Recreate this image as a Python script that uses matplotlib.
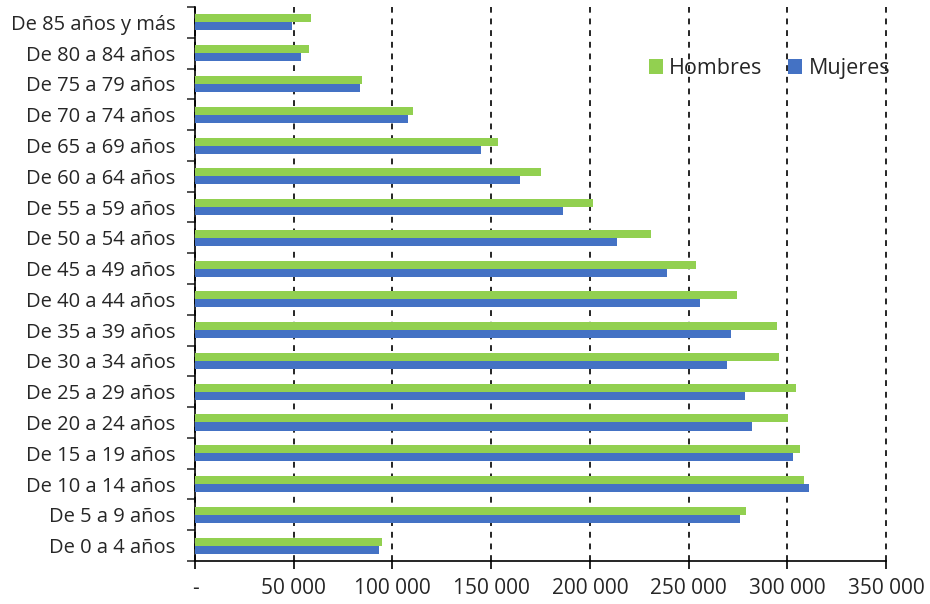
import matplotlib
matplotlib.use("Agg")
import matplotlib.pyplot as plt
import numpy as np
from matplotlib.ticker import FixedLocator, FuncFormatter

plt.rcParams['font.family'] = ['Open Sans', 'DejaVu Sans']

categorias = [
    "De 0 a 4 años", "De 5 a 9 años", "De 10 a 14 años", "De 15 a 19 años",
    "De 20 a 24 años", "De 25 a 29 años", "De 30 a 34 años", "De 35 a 39 años",
    "De 40 a 44 años", "De 45 a 49 años", "De 50 a 54 años", "De 55 a 59 años",
    "De 60 a 64 años", "De 65 a 69 años", "De 70 a 74 años", "De 75 a 79 años",
    "De 80 a 84 años", "De 85 años y más",
]
hombres = [94500, 279000, 308300, 306600, 300400, 304200, 295800, 294800,
           274700, 253800, 231000, 201400, 175100, 153700, 110600, 84800,
           57600, 58800]
mujeres = [93000, 276000, 311000, 302700, 282300, 278600, 269600, 271500,
           255800, 239100, 213700, 186200, 164800, 145000, 107900, 83600,
           53500, 49000]
xticks = [0, 50000, 100000, 150000, 200000, 250000, 300000, 350000]

verde = "#92D050"
azul = "#4472C4"
texto = "#262626"

fig = plt.figure(figsize=(9.3, 6.04), dpi=100)
ax = fig.add_axes([0.2097, 0.0712, 0.7430, 0.9172])

y = np.arange(len(categorias))
h = 0.26
ax.barh(y + h / 2, hombres, height=h, color=verde, label="Hombres", zorder=3)
ax.barh(y - h / 2, mujeres, height=h, color=azul, label="Mujeres", zorder=3)

ax.set_xlim(0, 350000)
ax.set_ylim(-0.5, len(categorias) - 0.5)

ax.set_xticks(xticks)
ax.xaxis.set_major_formatter(FuncFormatter(
    lambda v, p: "-" if v == 0 else f"{int(v):,}".replace(",", " ")))
ax.grid(axis="x", color="black", linestyle=(0, (3.5, 3.5)), linewidth=1.2, zorder=1)
for gl in ax.get_xgridlines():
    gl.set_clip_on(False)
ax.tick_params(axis="x", direction="out", length=6, width=1.2, color="black",
               labelsize=15, pad=6, labelcolor=texto)

ax.set_yticks(y)
ax.set_yticklabels(categorias)
ax.yaxis.set_minor_locator(FixedLocator(np.arange(-0.5, len(categorias), 1.0)))
ax.tick_params(axis="y", which="major", length=0, labelsize=14.5, pad=14,
               labelcolor=texto)
ax.tick_params(axis="y", which="minor", direction="out", length=6, width=1.2,
               color="#333333")

for s in ("top", "right"):
    ax.spines[s].set_visible(False)
ax.spines["left"].set_linewidth(1.2)
ax.spines["bottom"].set_linewidth(1.2)

ax.legend(loc="upper right", bbox_to_anchor=(1.028, 0.935), ncol=2, frameon=False,
          fontsize=15.5, handlelength=0.65, handleheight=0.65, handletextpad=0.3,
          columnspacing=1.2, labelcolor=texto, borderaxespad=0.3)

fig.savefig("out.png", dpi=100)
